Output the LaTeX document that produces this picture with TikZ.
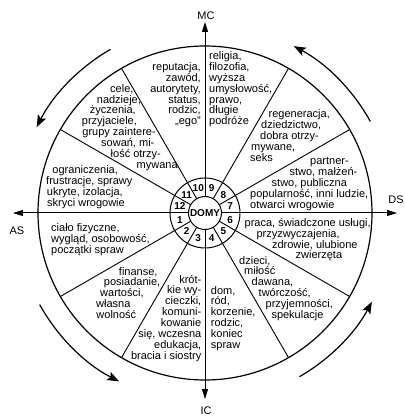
\documentclass[tikz,border=0pt]{standalone}
\usepackage{fontspec}
\setmainfont{Liberation Sans}
\usetikzlibrary{arrows.meta}
\newcommand{\indt}[1]{\hspace*{#1pt}}
\tikzset{
  house/.style={font=\fontsize{11}{10.9}\selectfont, inner sep=0pt},
  num/.style={font=\bfseries\fontsize{10}{10}\selectfont, inner sep=0pt},
  lbl/.style={font=\fontsize{11}{11}\selectfont, inner sep=0pt},
  axisline/.style={line width=1pt, {Triangle[length=10pt,width=6pt]}-{Triangle[length=10pt,width=6pt]}},
  turn/.style={line width=1.2pt, -{Stealth[length=12pt,width=9pt,inset=2.5pt]}}
}
\begin{document}
\begin{tikzpicture}[x=1pt,y=1pt]
\useasboundingbox (-205,-204) rectangle (199,213);

\coordinate (as) at (-192,0);
\coordinate (ds) at (192,0);
\coordinate (mc) at (0,191);
\coordinate (ic) at (0,-186);

\draw[line width=1.2pt] (0,0) circle (167);
\foreach \a in {30,60,120,150,210,240,300,330}
  \draw[line width=0.9pt] (\a:16.5) -- (\a:167);
\draw[axisline] (as) -- (ds);
\draw[axisline] (ic) -- (mc);
\draw[line width=1pt] (0,0) circle (35);
\node[draw, circle, line width=1pt, fill=white, minimum size=33pt, inner sep=0pt,
  font=\bfseries\fontsize{10}{10}\selectfont] at (0,0) (domy) {DOMY};

\foreach \n in {1,...,12}
  \node[num] at ({165+30*\n}:26) (nr\n) {\n};

\draw[turn] (120:189) arc (120:153:189);
\draw[turn] (29:189) arc (29:62:189);
\draw[turn] (209:189) arc (209:243:189);
\draw[turn] (300:189) arc (300:332:189);

\node[lbl] at (1,197) (mclbl) {MC};
\node[lbl] at (1,-198) (iclbl) {IC};
\node[lbl] at (-188,-18) (aslbl) {AS};
\node[lbl] at (191,13) (dslbl) {DS};

\node[house, align=left, anchor=base west] at (-154,-40.8) (t1)
  {ciało fizyczne,\\wygląd, osobowość,\\początki spraw};
\node[house, align=left, anchor=base west] at (-109,-105.6) (t2)
  {\indt{22.8}finanse,\\\indt{7.8}posiadanie,\\\indt{4}wartości,\\własna\\\indt{0.3}wolność};
\node[house, align=right, anchor=base east] at (-3.5,-146.3) (t3)
  {krót-\\kie wy-\\cieczki,\\komuni-\\kowanie\\się, wczesna\\edukacja,\\bracia i siostry};
\node[house, align=left, anchor=base west] at (5.7,-135.5) (t4)
  {dom,\\ród,\\korzenie,\\rodzic,\\koniec\\spraw};
\node[house, align=left, anchor=base west] at (34,-105.5) (t5)
  {dzieci,\\\indt{5}miłość\\\indt{12.5}dawana,\\\indt{19.5}twórczość,\\\indt{26.5}przyjemności,\\\indt{32.3}spekulacje};
\node[house, align=left, anchor=base west] at (39.5,-46) (t6)
  {praca, świadczone usługi,\\\indt{11.8}przyzwyczajenia,\\\indt{27.3}zdrowie, ulubione\\\indt{51}zwierzęta};
\node[house, align=left, anchor=base west] at (45,4.7) (t7)
  {\indt{60}partner-\\\indt{39.3}stwo, małżeń-\\\indt{21.5}stwo, publiczna\\popularność, inni ludzie,\\otwarci wrogowie};
\node[house, align=left, anchor=base west] at (45,51.4) (t8)
  {\indt{18.5}regeneracja,\\\indt{11}dziedzictwo,\\\indt{10}dobra otrzy-\\\indt{1}mywane,\\seks};
\node[house, align=left, anchor=base west] at (4,88.1) (t9)
  {religia,\\filozofia,\\wyższa\\umysłowość,\\prawo,\\długie\\podróże};
\node[house, align=right, anchor=base east] at (-4,88.1) (t10)
  {reputacja,\\zawód,\\autorytety,\\status,\\rodzic,\\„ego”};
\node[house, align=left, anchor=base west] at (-123.3,44.5) (t11)
  {\indt{28.3}cele,\\\indt{15}nadzieje,\\\indt{8}życzenia,\\przyjaciele,\\\indt{0.5}grupy zaintere-\\\indt{19.3}sowań, mi-\\\indt{28.8}łość otrzy-\\\indt{54.8}mywana};
\node[house, align=left, anchor=base west] at (-159,6.3) (t12)
  {\indt{6.3}ograniczenia,\\frustracje, sprawy\\\indt{0.7}ukryte, izolacja,\\\indt{1}skryci wrogowie};

\end{tikzpicture}
\end{document}
